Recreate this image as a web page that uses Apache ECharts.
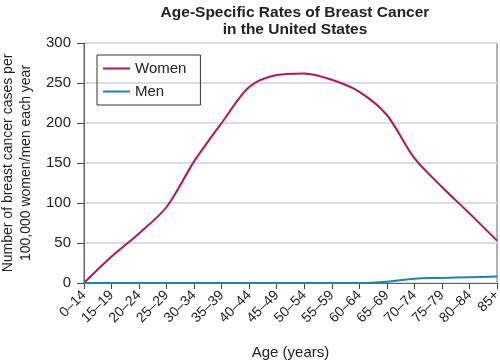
<!DOCTYPE html>
<html>
<head>
<meta charset="utf-8">
<script src="https://cdn.jsdelivr.net/npm/echarts@6/dist/echarts.min.js"></script>
<style>html,body{margin:0;padding:0;background:#fff}#c{width:500px;height:362px}</style>
</head>
<body>
<div id="c"></div>
<script>
var categories = ['0–14','15–19','20–24','25–29','30–34','35–39','40–44','45–49','50–54','55–59','60–64','65–69','70–74','75–79','80–84','85+'];
var women = [0, 33, 62, 95, 152, 200, 245, 260, 262, 254, 239, 210, 156, 120, 87, 53];
var men = [0, 0, 0, 0, 0, 0, 0, 0, 0, 0, 0, 1.7, 5.4, 6.3, 7.2, 8];
var yTicks = [0, 50, 100, 150, 200, 250, 300];

var FONT = '"Liberation Sans", Arial, sans-serif';
var chart = echarts.init(document.getElementById('c'));
chart.setOption({
  animation: false,
  backgroundColor: '#fff',
  title: {
    text: 'Age-Specific Rates of Breast Cancer\nin the United States',
    left: 290, top: -1, textAlign: 'center',
    textStyle: {fontFamily: FONT, fontSize: 15.5, fontWeight: 'bold', color: '#222', lineHeight: 17}
  },
  legend: {
    left: 97, top: 55, orient: 'vertical',
    padding: [6, 14, 6, 6],
    itemGap: 8,
    itemWidth: 27, itemHeight: 14,
    borderColor: '#333', borderWidth: 1,
    icon: 'path://M0,6L27,6L27,8L0,8Z',
    textStyle: {fontFamily: FONT, fontSize: 15, color: '#222'},
    data: ['Women', 'Men']
  },
  grid: {left: 84, right: 3, top: 43, bottom: 79, show: true, borderColor: '#666', borderWidth: 1, outerBoundsMode: 'none', containLabel: false},
  xAxis: {
    type: 'category', data: categories, boundaryGap: false,
    name: 'Age (years)', nameLocation: 'middle', nameGap: 62,
    nameTextStyle: {fontFamily: FONT, fontSize: 15, color: '#222'},
    axisLine: {lineStyle: {color: '#666', width: 1}},
    axisTick: {show: true, length: 6, lineStyle: {color: '#444'}},
    axisLabel: {rotate: 45, interval: 0, fontFamily: FONT, fontSize: 14, color: '#222', margin: 10,
      hideOverlap: false, overflow: 'none', width: 200},
    splitLine: {show: false}
  },
  yAxis: {
    type: 'value', min: 0, max: 300, interval: 50,
    name: 'Number of breast cancer cases per\n100,000 women/men each year',
    nameLocation: 'middle', nameGap: 46, nameRotate: 90,
    nameTextStyle: {fontFamily: FONT, fontSize: 14, color: '#222', lineHeight: 18},
    axisLine: {show: true, lineStyle: {color: '#666', width: 1}},
    axisTick: {show: true, length: 7, lineStyle: {color: '#444'}},
    axisLabel: {fontFamily: FONT, fontSize: 15, color: '#222', margin: 13,
      formatter: function (v) { return yTicks.indexOf(v) >= 0 ? String(v) : ''; }},
    splitLine: {show: true, lineStyle: {color: '#dcdcdc', width: 2}}
  },
  series: [
    {name: 'Women', type: 'line', data: women, smooth: 0.3, symbol: 'none',
      lineStyle: {color: '#b0155f', width: 2}, itemStyle: {color: '#b0155f'}, z: 3},
    {name: 'Men', type: 'line', data: men, smooth: 0.3, symbol: 'none',
      lineStyle: {color: '#1a86ad', width: 2}, itemStyle: {color: '#1a86ad'}, z: 4}
  ]
});
</script>
</body>
</html>
